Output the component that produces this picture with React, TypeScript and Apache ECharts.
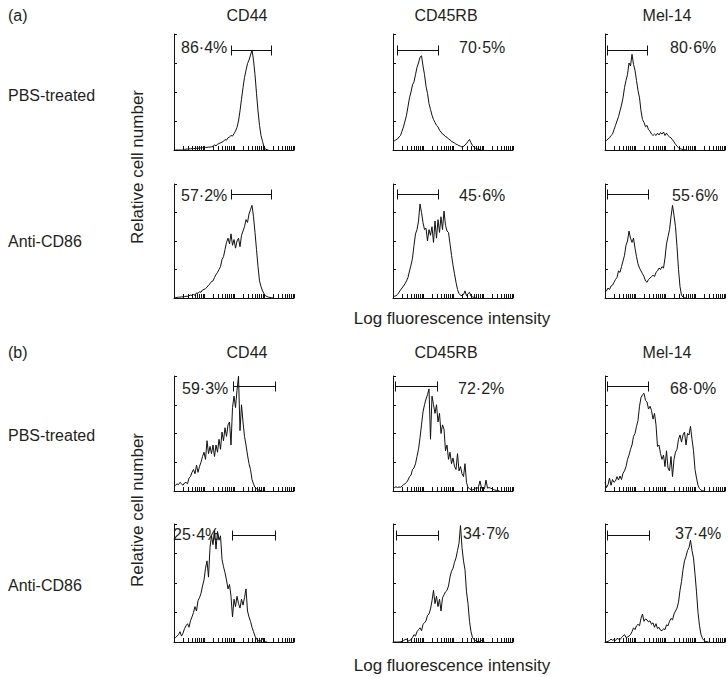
import React, { useEffect, useRef } from "react";
import * as echarts from "echarts";

// ---------- data ----------
const CH_STEP = 0.05; // log10 fluorescence units per histogram channel
const PANELS = ["(a)", "(b)"];
const MARKERS = ["CD44", "CD45RB", "Mel-14"];
const TREATMENTS = ["PBS-treated", "Anti-CD86"];
const Y_TITLE = "Relative cell number";
const X_TITLE = "Log fluorescence intensity";
const TICK_MANTISSAS = [2, 3, 4, 5, 6, 7, 8, 9, 10];
const TICK_DECADES = [0, 1, 2, 3];

// (a) PBS-treated
const A_PBS_CD44 = [0, 0, 0, 0, 0, 0, 0, 0.02, 0.03, 0.03, 0.04, 0.04, 0.05, 0.05, 0.05, 0.06, 0.06, 0.07, 0.07, 0.08, 0.08, 0.09, 0.09, 0.1, 0.1, 0.11, 0.12, 0.18, 0.14, 0.2, 0.22, 0.25, 0.27, 0.3, 0.36, 0.34, 0.42, 0.45, 0.5, 0.48, 0.56, 0.65, 0.78, 1.0, 1.35, 1.75, 2.15, 2.5, 2.75, 2.98, 3.1, 3.27, 3.45, 3.1, 2.6, 1.95, 1.35, 0.85, 0.5, 0.3, 0.1, 0.03, 0.01, 0];
const A_PBS_CD45RB = [0.29, 0.32, 0.35, 0.38, 0.45, 0.5, 0.65, 0.8, 1.0, 1.2, 1.5, 1.8, 2.0, 2.25, 2.35, 2.6, 2.85, 3.0, 3.2, 3.25, 2.9, 2.6, 2.2, 1.95, 1.6, 1.4, 1.2, 1.05, 0.95, 0.85, 0.8, 0.68, 0.62, 0.55, 0.52, 0.46, 0.44, 0.38, 0.35, 0.3, 0.27, 0.24, 0.2, 0.18, 0.15, 0.13, 0.1, 0.12, 0.18, 0.22, 0.3, 0.36, 0.25, 0.15, 0.1, 0.06, 0.04, 0.02, 0.01, 0];
const A_PBS_MEL14 = [0.29, 0.33, 0.38, 0.42, 0.5, 0.55, 0.7, 0.85, 1.0, 1.15, 1.35, 1.55, 1.8, 2.15, 2.4, 2.6, 3.0, 2.9, 3.3, 2.95, 2.75, 2.4, 2.05, 1.8, 1.35, 1.05, 0.95, 0.8, 0.85, 0.7, 0.65, 0.55, 0.5, 0.55, 0.5, 0.58, 0.52, 0.6, 0.55, 0.62, 0.5, 0.58, 0.5, 0.45, 0.42, 0.35, 0.28, 0.2, 0.13, 0.08, 0.05, 0.03, 0.02, 0.01, 0];
// (a) Anti-CD86
const A_ANTI_CD44 = [0.01, 0.02, 0.02, 0.03, 0.03, 0.04, 0.04, 0.05, 0.06, 0.06, 0.08, 0.1, 0.09, 0.12, 0.1, 0.18, 0.16, 0.22, 0.2, 0.28, 0.3, 0.33, 0.38, 0.45, 0.5, 0.58, 0.6, 0.72, 0.82, 0.9, 1.0, 1.1, 1.35, 1.45, 1.7, 1.95, 2.1, 1.9, 2.25, 1.85, 2.05, 1.75, 2.0, 2.1, 1.8, 2.2, 2.35, 2.5, 2.75, 2.65, 2.95, 3.1, 3.25, 2.85, 2.3, 1.7, 1.1, 0.6, 0.4, 0.25, 0.15, 0.08, 0.05, 0.03, 0.02, 0.01, 0];
const A_ANTI_CD45RB = [0.03, 0.06, 0.08, 0.12, 0.2, 0.28, 0.35, 0.42, 0.5, 0.6, 0.72, 0.95, 1.15, 1.4, 1.85, 2.25, 2.4, 2.7, 3.3, 3.0, 2.65, 2.4, 2.45, 2.0, 2.4, 2.2, 2.5, 1.95, 2.7, 2.1, 2.75, 2.3, 2.85, 2.4, 3.05, 2.55, 2.35, 2.3, 1.9, 1.5, 1.15, 0.85, 0.55, 0.3, 0.15, 0.1, 0.08, 0.12, 0.25, 0.08, 0.15, 0.2, 0.06, 0.04, 0.02, 0.01, 0];
const A_ANTI_MEL14 = [0.3, 0.25, 0.35, 0.3, 0.42, 0.45, 0.55, 0.65, 0.72, 0.95, 0.9, 1.1, 1.3, 1.5, 1.85, 2.0, 2.35, 2.1, 1.95, 2.1, 1.75, 1.45, 1.2, 1.05, 0.95, 0.85, 0.75, 0.6, 0.55, 0.65, 0.7, 0.75, 0.8, 0.75, 0.9, 0.95, 1.05, 1.0, 1.1, 1.05, 1.4, 1.9, 2.15, 2.4, 2.85, 3.25, 2.9, 2.5, 1.8, 1.0, 0.4, 0.1, 0.03, 0.01, 0];
// (b) PBS-treated
const B_PBS_CD44 = [0.17, 0.2, 0.25, 0.22, 0.3, 0.25, 0.2, 0.28, 0.3, 0.25, 0.45, 0.5, 0.65, 0.75, 0.6, 0.9, 0.65, 0.85, 1.0, 1.2, 1.35, 1.1, 1.75, 1.3, 1.55, 1.3, 1.6, 1.2, 1.6, 1.35, 1.8, 1.45, 2.05, 1.75, 2.2, 1.9, 2.3, 2.4, 1.6, 2.9, 3.3, 2.9, 3.5, 4.0, 2.1, 3.0, 2.4, 1.9, 1.6, 1.25, 0.95, 0.75, 0.4, 0.25, 0.12, 0.08, 0.04, 0.02, 0.01, 0];
const B_PBS_CD45RB = [0.1, 0.12, 0.15, 0.12, 0.14, 0.13, 0.17, 0.22, 0.25, 0.3, 0.38, 0.5, 0.55, 0.75, 0.8, 0.95, 1.2, 1.45, 1.85, 2.3, 2.75, 3.0, 3.2, 3.35, 3.55, 1.8, 3.3, 3.0, 2.7, 3.0, 2.4, 2.7, 2.0, 2.3, 2.15, 1.4, 1.6, 1.1, 1.35, 0.95, 1.15, 0.85, 0.75, 1.3, 0.7, 0.85, 0.6, 0.5, 0.95, 0.3, 0.12, 0.08, 0.05, 0.04, 0.06, 0.1, 0.08, 0.15, 0.35, 0.1, 0.12, 0.08, 0.38, 0.1, 0.12, 0.1, 0.08, 0.05, 0.03, 0.02, 0.01, 0];
const B_PBS_MEL14 = [0.3, 0.12, 0.22, 0.45, 0.2, 0.4, 0.3, 0.35, 0.5, 0.38, 0.52, 0.4, 0.62, 0.7, 0.85, 1.1, 1.25, 1.45, 1.6, 1.9, 2.0, 2.25, 2.45, 2.95, 3.25, 3.35, 3.4, 3.15, 3.1, 2.85, 2.95, 2.8, 2.5, 2.7, 2.3, 1.55, 1.6, 1.3, 1.1, 1.25, 0.85, 1.4, 0.8, 0.7, 1.2, 0.5, 1.1, 1.35, 1.45, 1.8, 1.95, 1.7, 1.95, 2.05, 1.6, 2.0, 1.95, 2.25, 1.8, 1.4, 0.75, 0.45, 0.2, 0.08, 0.03, 0.01, 0];
// (b) Anti-CD86
const B_ANTI_CD44 = [0.12, 0.15, 0.2, 0.25, 0.35, 0.2, 0.3, 0.45, 0.55, 0.62, 0.5, 0.72, 0.85, 1.0, 1.2, 1.05, 1.4, 1.5, 1.65, 1.9, 2.1, 2.5, 2.75, 2.2, 3.2, 3.6, 3.3, 3.8, 3.15, 3.75, 3.45, 3.6, 2.8, 2.55, 2.35, 2.1, 1.8, 1.95, 1.55, 0.85, 1.45, 1.2, 1.55, 1.3, 1.15, 1.45, 1.25, 1.5, 1.8, 1.05, 0.85, 0.7, 0.5, 0.35, 0.2, 0.1, 0.05, 0.02, 0.04, 0.12, 0.03, 0.01, 0];
const B_ANTI_CD45RB = [0, 0, 0, 0, 0, 0.01, 0.02, 0.05, 0.08, 0.1, 0.03, 0.05, 0.08, 0.15, 0.25, 0.2, 0.35, 0.42, 0.48, 0.38, 0.6, 0.65, 0.72, 0.9, 0.95, 1.12, 1.4, 1.75, 1.3, 1.55, 1.2, 1.45, 1.05, 1.5, 1.6, 1.7, 1.75, 1.9, 2.2, 2.4, 2.5, 2.7, 2.85, 3.1, 3.35, 3.95, 3.2, 2.75, 2.45, 1.7, 1.3, 0.7, 0.35, 0.15, 0.08, 0.05, 0.02, 0.01, 0.01, 0.05, 0.02, 0];
const B_ANTI_MEL14 = [0, 0.01, 0.02, 0.05, 0.1, 0.06, 0.08, 0.05, 0.12, 0.1, 0.08, 0.15, 0.2, 0.25, 0.15, 0.17, 0.2, 0.25, 0.35, 0.48, 0.42, 0.55, 0.6, 0.55, 0.8, 0.95, 0.7, 0.78, 0.75, 0.68, 0.72, 0.6, 0.65, 0.5, 0.62, 0.45, 0.5, 0.4, 0.38, 0.45, 0.42, 0.58, 0.55, 0.7, 0.8, 0.75, 0.95, 1.05, 1.15, 1.35, 1.75, 2.05, 2.45, 2.75, 2.9, 3.1, 3.2, 3.45, 3.1, 2.85, 2.3, 1.7, 1.0, 0.55, 0.25, 0.12, 0.05, 0.02, 0.01, 0];

// rows: (a) PBS, (a) Anti, (b) PBS, (b) Anti ; columns: CD44, CD45RB, Mel-14
const HISTOGRAMS = [
  [A_PBS_CD44, A_PBS_CD45RB, A_PBS_MEL14],
  [A_ANTI_CD44, A_ANTI_CD45RB, A_ANTI_MEL14],
  [B_PBS_CD44, B_PBS_CD45RB, B_PBS_MEL14],
  [B_ANTI_CD44, B_ANTI_CD45RB, B_ANTI_MEL14],
];
const PERCENTS = [
  ["86·4%", "70·5%", "80·6%"],
  ["57·2%", "45·6%", "55·6%"],
  ["59·3%", "72·2%", "68·0%"],
  ["25·4%", "34·7%", "37·4%"],
];
// gate limits in log10 units
const GATES = [
  [[1.89, 3.23], [0.12, 1.51], [0.06, 1.41]],
  [[1.89, 3.23], [0.12, 1.51], [0.06, 1.44]],
  [[1.98, 3.37], [0.07, 1.48], [0.06, 1.44]],
  [[1.94, 3.37], [0.09, 1.51], [0.08, 1.48]],
];
const GATE_LEVELS = [3.45, 3.65, 3.65, 3.63];

// ---------- layout ----------
const COL_LEFT = [174, 393, 605];
const COL_W = 120;
const ROW_TOP = [34, 184, 376, 524];
const ROW_H = [116, 114, 115, 118];
const LABEL_POS = [
  [[181, 47], [459, 47], [670, 47]],
  [[181, 195], [459, 195], [672, 195]],
  [[182, 388], [458, 388], [670, 388]],
  [[173, 534], [463, 533], [675, 533]],
];
const FONT = "Liberation Sans, Arial, Helvetica, sans-serif";
const TXT = "#231f20";
const INK = "#111";

function text(str: string, x: number, y: number, align = "left", rot = 0, size = 16) {
  return {
    type: "text",
    x,
    y,
    rotation: rot,
    silent: true,
    style: {
      text: str,
      font: `${size}px ${FONT}`,
      fill: TXT,
      align,
      verticalAlign: "middle",
      textAlign: align,
      textVerticalAlign: "middle",
    },
  };
}

function buildOption() {
  const grid: any[] = [];
  const xAxis: any[] = [];
  const yAxis: any[] = [];
  const series: any[] = [];
  const graphic: any[] = [];
  const tickPos: number[][] = [];
  TICK_DECADES.forEach((d) => TICK_MANTISSAS.forEach((m) => tickPos.push([d + Math.log10(m), 0])));

  for (let r = 0; r < 4; r++) {
    for (let c = 0; c < 3; c++) {
      const i = r * 3 + c;
      grid.push({ left: COL_LEFT[c], top: ROW_TOP[r], width: COL_W, height: ROW_H[r] });
      xAxis.push({
        gridIndex: i, type: "value", min: 0, max: 4,
        axisLine: { show: true, lineStyle: { color: INK, width: 1 } },
        axisTick: { show: false }, axisLabel: { show: false }, splitLine: { show: false },
      });
      yAxis.push({
        gridIndex: i, type: "value", min: 0, max: 4, interval: 1,
        axisLine: { show: true, lineStyle: { color: INK, width: 1 } },
        axisTick: { show: true, inside: true, length: 3, lineStyle: { color: INK } },
        axisLabel: { show: false }, splitLine: { show: false },
      });
      series.push({
        type: "line", xAxisIndex: i, yAxisIndex: i, symbol: "none", silent: true,
        lineStyle: { color: INK, width: 1 },
        data: HISTOGRAMS[r][c].map((v, k) => [k * CH_STEP, v]),
      });
      series.push({
        type: "custom", xAxisIndex: i, yAxisIndex: i, silent: true, clip: false,
        data: tickPos,
        renderItem: (_p: any, api: any) => {
          const p = api.coord([api.value(0), 0]);
          const x = Math.round(p[0]) + 0.5;
          const y = Math.round(p[1]);
          return { type: "line", shape: { x1: x, y1: y, x2: x, y2: y - 4 }, style: { stroke: INK, lineWidth: 1 } };
        },
      });
      const g = GATES[r][c];
      series.push({
        type: "custom", xAxisIndex: i, yAxisIndex: i, silent: true, clip: false,
        data: [[g[0], g[1], GATE_LEVELS[r]]],
        renderItem: (_p: any, api: any) => {
          const a = api.coord([api.value(0), api.value(2)]);
          const b = api.coord([api.value(1), api.value(2)]);
          const y = Math.round(a[1]) + 0.5;
          const x1 = Math.round(a[0]) + 0.5;
          const x2 = Math.round(b[0]) + 0.5;
          const st = { stroke: INK, lineWidth: 1 };
          return {
            type: "group",
            children: [
              { type: "line", shape: { x1, y1: y, x2, y2: y }, style: st },
              { type: "line", shape: { x1, y1: y - 5, x2: x1, y2: y + 5 }, style: st },
              { type: "line", shape: { x1: x2, y1: y - 5, x2, y2: y + 5 }, style: st },
            ],
          };
        },
      });
      const lp = LABEL_POS[r][c];
      graphic.push(text(PERCENTS[r][c], lp[0], lp[1]));
    }
  }

  // panel letters, column headers, row labels, axis titles
  const headerY = [15, 352];
  const colCenter = [247, 446, 667];
  const rowLabelY = [95, 241, 435, 585];
  const yTitleY = [167, 510];
  const xTitleY = [318, 665];
  for (let p = 0; p < 2; p++) {
    graphic.push(text(PANELS[p], 8, headerY[p]));
    MARKERS.forEach((m, c) => graphic.push(text(m, colCenter[c], headerY[p], "center")));
    graphic.push(text(Y_TITLE, 137, yTitleY[p], "center", Math.PI / 2, 17));
    graphic.push(text(X_TITLE, 452, xTitleY[p], "center", 0, 17));
  }
  for (let r = 0; r < 4; r++) graphic.push(text(TREATMENTS[r % 2], 8, rowLabelY[r]));

  return { animation: false, backgroundColor: "#fff", grid, xAxis, yAxis, series, graphic };
}

export default function App() {
  const ref = useRef<HTMLDivElement>(null);
  useEffect(() => {
    if (!ref.current) return;
    const chart = echarts.init(ref.current, undefined, { renderer: "svg" });
    chart.setOption(buildOption() as any);
    return () => chart.dispose();
  }, []);
  return (
    <div
      ref={ref}
      style={{ position: "absolute", left: 0, top: 0, width: 728, height: 677, background: "#fff" }}
    />
  );
}
